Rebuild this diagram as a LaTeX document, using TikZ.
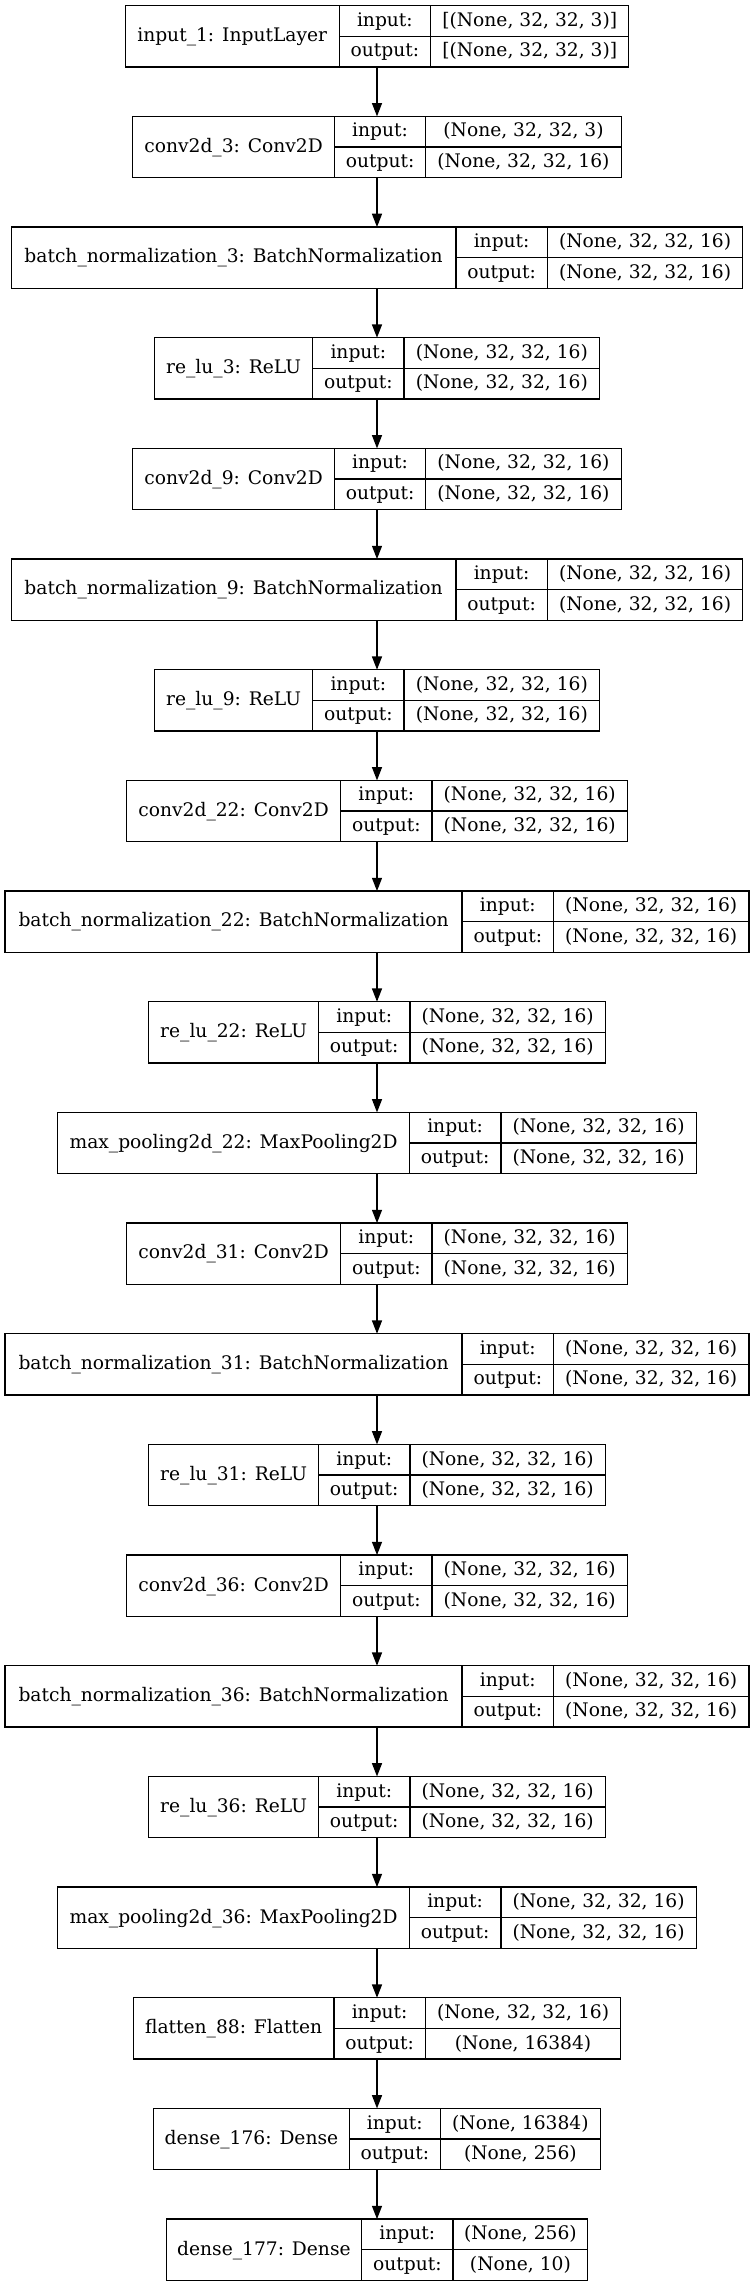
\documentclass[tikz,border=0pt]{standalone}
\usepackage{fontspec}
\setmainfont{DejaVu Serif}
\usetikzlibrary{arrows.meta}
\tikzset{
  cellbase/.style={inner sep=0pt, outer sep=0pt,
    font=\fontsize{18.67}{22}\selectfont, text height=15pt, text depth=4.5pt, align=center},
  layerframe/.style={draw=black, line width=1.3pt, inner sep=0pt, outer sep=0pt, minimum height=61.3pt},
  namecell/.style={cellbase, minimum height=61.3pt},
  labcell/.style={cellbase, minimum height=30.65pt, minimum width=91.4pt},
  valcell/.style={cellbase, minimum height=30.65pt},
  sep/.style={draw=black, line width=1.3pt},
  edge/.style={line width=1.3pt, -{Triangle[length=13.3pt, width=10pt]}}
}
\newcommand\layerbox[7]{%
  \pgfmathsetmacro\lbW{#3+91.4+#4}%
  \pgfmathsetmacro\lbT{5.7+110.67*#2}%
  \pgfmathsetmacro\lbX{377-\lbW/2}%
  \node[layerframe, minimum width=\lbW pt, anchor=north west] (#1) at (\lbX,\lbT) {};
  \node[namecell, minimum width=#3pt, anchor=north west] (#1-name) at (#1.north west) {#5};
  \node[labcell, anchor=north west] (#1-inl) at (#1-name.north east) {input:};
  \node[labcell, anchor=north west] (#1-outl) at (#1-inl.south west) {output:};
  \node[valcell, minimum width=#4pt, anchor=north west] (#1-inv) at (#1-inl.north east) {#6};
  \node[valcell, minimum width=#4pt, anchor=north west] (#1-outv) at (#1-outl.north east) {#7};
  \draw[sep] (#1-name.north east) -- (#1-name.south east);
  \draw[sep] (#1-inl.north east) -- (#1-outl.south east);
  \draw[sep] (#1-inl.south west) -- (#1-inv.south east);
}
\begin{document}
\begin{tikzpicture}[x=1pt,y=-1pt]
\fill[white] (0,0) rectangle (751,2287);
\useasboundingbox (0,0) rectangle (751,2287);
\layerbox{L0}{0}{214}{198.2}{input\_1: InputLayer}{[(None, 32, 32, 3)]}{[(None, 32, 32, 3)]}
\layerbox{L1}{1}{201.6}{195.4}{conv2d\_3: Conv2D}{(None, 32, 32, 3)}{(None, 32, 32, 16)}
\layerbox{L2}{2}{444.7}{195.4}{batch\_normalization\_3: BatchNormalization}{(None, 32, 32, 16)}{(None, 32, 32, 16)}
\layerbox{L3}{3}{158.2}{195.4}{re\_lu\_3: ReLU}{(None, 32, 32, 16)}{(None, 32, 32, 16)}
\layerbox{L4}{4}{201.6}{195.4}{conv2d\_9: Conv2D}{(None, 32, 32, 16)}{(None, 32, 32, 16)}
\layerbox{L5}{5}{444.7}{195.4}{batch\_normalization\_9: BatchNormalization}{(None, 32, 32, 16)}{(None, 32, 32, 16)}
\layerbox{L6}{6}{158.2}{195.4}{re\_lu\_9: ReLU}{(None, 32, 32, 16)}{(None, 32, 32, 16)}
\layerbox{L7}{7}{214.1}{195.4}{conv2d\_22: Conv2D}{(None, 32, 32, 16)}{(None, 32, 32, 16)}
\layerbox{L8}{8}{457}{195.4}{batch\_normalization\_22: BatchNormalization}{(None, 32, 32, 16)}{(None, 32, 32, 16)}
\layerbox{L9}{9}{169.9}{195.4}{re\_lu\_22: ReLU}{(None, 32, 32, 16)}{(None, 32, 32, 16)}
\layerbox{L10}{10}{351.7}{195.4}{max\_pooling2d\_22: MaxPooling2D}{(None, 32, 32, 16)}{(None, 32, 32, 16)}
\layerbox{L11}{11}{214.1}{195.4}{conv2d\_31: Conv2D}{(None, 32, 32, 16)}{(None, 32, 32, 16)}
\layerbox{L12}{12}{457}{195.4}{batch\_normalization\_31: BatchNormalization}{(None, 32, 32, 16)}{(None, 32, 32, 16)}
\layerbox{L13}{13}{169.9}{195.4}{re\_lu\_31: ReLU}{(None, 32, 32, 16)}{(None, 32, 32, 16)}
\layerbox{L14}{14}{214.1}{195.4}{conv2d\_36: Conv2D}{(None, 32, 32, 16)}{(None, 32, 32, 16)}
\layerbox{L15}{15}{457}{195.4}{batch\_normalization\_36: BatchNormalization}{(None, 32, 32, 16)}{(None, 32, 32, 16)}
\layerbox{L16}{16}{169.9}{195.4}{re\_lu\_36: ReLU}{(None, 32, 32, 16)}{(None, 32, 32, 16)}
\layerbox{L17}{17}{351.7}{195.4}{max\_pooling2d\_36: MaxPooling2D}{(None, 32, 32, 16)}{(None, 32, 32, 16)}
\layerbox{L18}{18}{200.7}{195.4}{flatten\_88: Flatten}{(None, 32, 32, 16)}{(None, 16384)}
\layerbox{L19}{19}{195.4}{159.7}{dense\_176: Dense}{(None, 16384)}{(None, 256)}
\layerbox{L20}{20}{195.4}{134.8}{dense\_177: Dense}{(None, 256)}{(None, 10)}
\foreach \a/\b in {L0/L1,L1/L2,L2/L3,L3/L4,L4/L5,L5/L6,L6/L7,L7/L8,L8/L9,L9/L10,L10/L11,L11/L12,L12/L13,L13/L14,L14/L15,L15/L16,L16/L17,L17/L18,L18/L19,L19/L20}
  \draw[edge] (\a.south) -- (\b.north);
\end{tikzpicture}
\end{document}
